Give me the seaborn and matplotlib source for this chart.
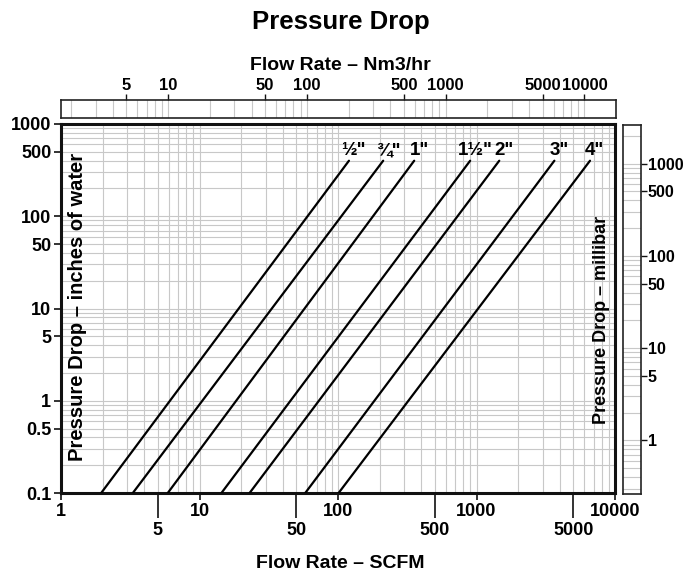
import matplotlib
matplotlib.use("Agg")
import matplotlib.pyplot as plt
from matplotlib.ticker import FixedLocator, FixedFormatter, LogLocator, NullFormatter
import pandas as pd
import seaborn as sns

# pipe sizes and the flow (SCFM) where each line crosses 0.1 and 400 in. of water
sizes = ['½"', '¾"', '1"', '1½"', '2"', '3"', '4"']
flow_start = [1.95, 3.3, 5.9, 14.4, 23, 58, 101]
flow_end = [120, 212, 355, 900, 1460, 3650, 6600]
dp_start = 0.1
dp_end = 400

bottom_major = [1, 10, 100, 1000, 10000]
bottom_minor = [5, 50, 500, 5000]
left_ticks = [0.1, 0.5, 1, 5, 10, 50, 100, 500, 1000]
left_labels = ["0.1", "0.5", "1", "5", "10", "50", "100", "500", "1000"]
top_ticks = [5, 10, 50, 100, 500, 1000, 5000, 10000]
right_ticks = [1, 5, 10, 50, 100, 500, 1000]

nm3_per_scfm = 1.69
mbar_per_inh2o = 2.62

rows = []
for s, a, b in zip(sizes, flow_start, flow_end):
    rows.append((s, a, dp_start))
    rows.append((s, b, dp_end))
df = pd.DataFrame(rows, columns=["size", "flow", "dp"])

sns.set_theme(style="white")
plt.rcParams['font.family'] = ['Liberation Sans', 'DejaVu Sans']
plt.rcParams['font.weight'] = 'bold'
plt.rcParams['text.color'] = 'black'
plt.rcParams['xtick.color'] = 'black'
plt.rcParams['ytick.color'] = 'black'
plt.rcParams['xtick.labelcolor'] = 'black'
plt.rcParams['ytick.labelcolor'] = 'black'

grid_kw = dict(color='#c8c8c8', lw=0.8)

fig = plt.figure(figsize=(6.83, 5.72), dpi=100)
ax = fig.add_axes([61 / 683, 79 / 572, 554 / 683, 369 / 572])

sns.lineplot(data=df, x="flow", y="dp", units="size", estimator=None,
             color="black", lw=1.6, ax=ax, zorder=3)
ax.set_xscale("log")
ax.set_yscale("log")
ax.set_xlim(1, 10000)
ax.set_ylim(0.1, 1000)
ax.set_xlabel("")
ax.set_ylabel("")

ax.xaxis.set_major_locator(FixedLocator(bottom_major))
ax.xaxis.set_major_formatter(FixedFormatter([str(v) for v in bottom_major]))
ax.xaxis.set_minor_locator(LogLocator(base=10, subs=range(2, 10)))
ax.xaxis.set_minor_formatter(NullFormatter())
ax.yaxis.set_major_locator(FixedLocator(left_ticks))
ax.yaxis.set_major_formatter(FixedFormatter(left_labels))
ax.yaxis.set_minor_locator(LogLocator(base=10, subs=range(2, 10)))
ax.yaxis.set_minor_formatter(NullFormatter())
ax.tick_params(axis='x', which='major', bottom=True, length=5, width=1.2,
               color='#111111', pad=2.5, labelsize=13)
ax.tick_params(axis='y', which='major', left=True, length=5, width=1.2,
               color='#111111', pad=2, labelsize=13)
ax.tick_params(which='minor', length=0)
ax.grid(which='both', **grid_kw)
for sp in ax.spines.values():
    sp.set_linewidth(2.2)
    sp.set_color('#111111')

# staggered 5-50-500 labels under the axis
sec = ax.secondary_xaxis('bottom')
sec.set_xticks(bottom_minor)
sec.set_xticklabels([str(v) for v in bottom_minor])
sec.xaxis.set_minor_locator(FixedLocator([]))
sec.tick_params(axis='x', length=18, width=1.2, color='#111111', pad=3, labelsize=13)
sec.spines['bottom'].set_visible(False)

for s, x in zip(sizes, flow_end):
    ax.annotate(s, (x, dp_end), xytext=(3.5, 4), textcoords='offset points',
                ha='center', va='baseline', fontsize=13.5, fontweight='bold', zorder=4)

ax.text(0.029, 0.505, "Pressure Drop – inches of water", transform=ax.transAxes,
        rotation=90, ha='center', va='center', fontsize=14.5, fontweight='bold')
ax.text(0.9765, 0.469, "Pressure Drop – millibar", transform=ax.transAxes,
        rotation=90, ha='center', va='center', fontsize=13, fontweight='bold')

# Nm3/hr strip on top
axt = fig.add_axes([61 / 683, 454 / 572, 555 / 683, 18 / 572])
axt.set_xscale("log")
axt.set_xlim(nm3_per_scfm, nm3_per_scfm * 10000)
axt.set_yticks([])
axt.xaxis.set_major_locator(FixedLocator(top_ticks))
axt.xaxis.set_major_formatter(FixedFormatter([str(v) for v in top_ticks]))
axt.xaxis.set_minor_locator(LogLocator(base=10, subs=range(2, 10)))
axt.xaxis.set_minor_formatter(NullFormatter())
axt.xaxis.tick_top()
axt.tick_params(axis='x', which='major', top=True, bottom=False, length=4, width=1,
                color='#111111', pad=1, labelsize=12)
axt.tick_params(which='minor', length=0)
axt.grid(axis='x', which='both', **grid_kw)
for sp in axt.spines.values():
    sp.set_linewidth(1.2)
    sp.set_color('#222222')

# millibar strip on the right
axr = fig.add_axes([623 / 683, 78 / 572, 18 / 683, 369 / 572])
axr.set_yscale("log")
axr.set_ylim(0.1 * mbar_per_inh2o, 1000 * mbar_per_inh2o)
axr.set_xticks([])
axr.yaxis.set_major_locator(FixedLocator(right_ticks))
axr.yaxis.set_major_formatter(FixedFormatter([str(v) for v in right_ticks]))
axr.yaxis.set_minor_locator(LogLocator(base=10, subs=range(2, 10)))
axr.yaxis.set_minor_formatter(NullFormatter())
axr.yaxis.tick_right()
axr.tick_params(axis='y', which='major', right=True, left=False, length=4, width=1,
                color='#111111', pad=1, labelsize=11.5)
axr.tick_params(which='minor', length=0)
axr.grid(axis='y', which='both', **grid_kw)
for sp in axr.spines.values():
    sp.set_linewidth(1.2)
    sp.set_color('#222222')

fig.text(341 / 683, 1 - 22 / 572, "Pressure Drop", ha='center', va='center',
         fontsize=18.5, fontweight='bold')
fig.text(340 / 683, 1 - 65 / 572, "Flow Rate – Nm3/hr", ha='center', va='center',
         fontsize=14, fontweight='bold')
fig.text(340 / 683, 1 - 563 / 572, "Flow Rate – SCFM", ha='center', va='center',
         fontsize=14, fontweight='bold')

fig.savefig("out.png", dpi=100)
